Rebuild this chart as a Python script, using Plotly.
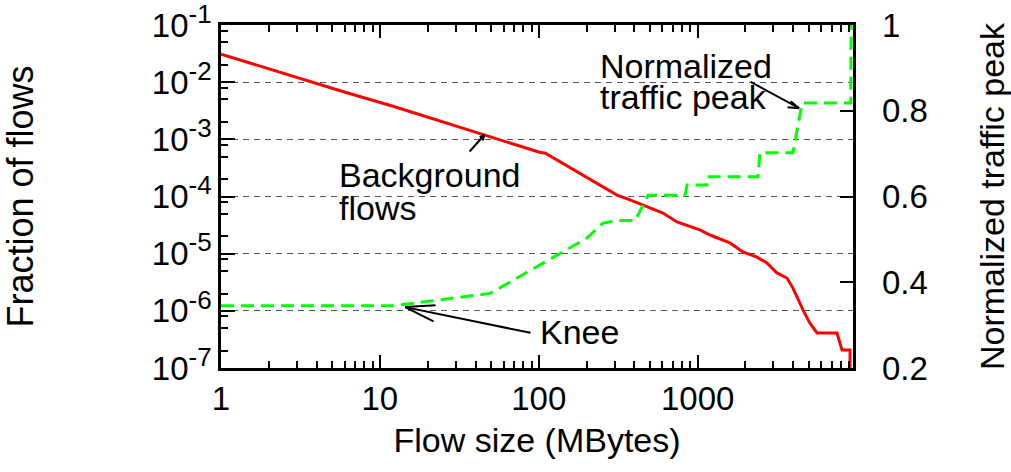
import numpy as np
import plotly.graph_objects as go

# Background flow size distribution (fraction of flows vs. flow size in MB)
bg_size = [1, 5.9, 12.1, 44.7, 100, 110, 216, 311, 375, 605, 741, 1033, 1195,
           1596, 1927, 2361, 2729, 3155, 3645, 3980, 4600, 5090, 5640, 7530,
           8100, 9100, 9100]
bg_frac = [3.1e-2, 6.8e-3, 3.8e-3, 1.19e-3, 6.0e-4, 5.7e-4, 1.95e-4, 1.06e-4,
           8.7e-5, 5.15e-5, 3.58e-5, 2.6e-5, 2.12e-5, 1.54e-5, 1.07e-5,
           8.7e-6, 6.9e-6, 4.6e-6, 3.75e-6, 2.5e-6, 1.04e-6, 6.1e-7, 4.1e-7,
           4.1e-7, 2.07e-7, 2.07e-7, 1e-7]

# Normalized traffic peak vs. flow size
pk_size = [1, 12.1, 49.4, 102, 142, 201, 254, 311, 404, 488, 832, 857, 1145,
           1150, 2399, 2467, 3980, 4540, 9200, 9250]
pk_val = [0.345, 0.345, 0.374, 0.44, 0.471, 0.503, 0.538, 0.544, 0.544, 0.603,
          0.603, 0.627, 0.627, 0.646, 0.646, 0.702, 0.702, 0.818, 0.818, 1.0]

x_ticks = [1, 10, 100, 1000]
x_ticktext = ["1", "10", "100", "1000"]
y_exps = [-7, -6, -5, -4, -3, -2, -1]
y2_ticks = [0.2, 0.4, 0.6, 0.8, 1.0]
y2_ticktext = ["0.2", "0.4", "0.6", "0.8", "1"]

X_MAX = 9500
FONT = "Liberation Sans, Arial, Helvetica, sans-serif"
TICK_FONT = dict(family=FONT, size=33, color="black")
TEXT_SIZE = 34

x_minor = [m * 10 ** d for d in range(4) for m in range(2, 10) if m * 10 ** d < X_MAX]
y_minor = [m * 10.0 ** e for e in range(-7, -1) for m in (2, 5, 8)]

fig = go.Figure()
fig.add_trace(go.Scatter(x=bg_size, y=bg_frac, mode="lines",
                         line=dict(color="#ff0000", width=3),
                         xaxis="x", yaxis="y", showlegend=False))
fig.add_trace(go.Scatter(x=pk_size, y=pk_val, mode="lines",
                         line=dict(color="#00ff00", width=3, dash="13px,7px"),
                         xaxis="x", yaxis="y2", showlegend=False))

axis_common = dict(showline=True, linecolor="black", linewidth=2.5,
                   ticks="inside", tickcolor="black", tickwidth=2,
                   zeroline=False, tickfont=TICK_FONT, automargin=False,
                   ticklabeloverflow="allow")

fig.update_layout(
    width=1011, height=472,
    margin=dict(l=221, r=158, t=25, b=104, autoexpand=False),
    paper_bgcolor="white", plot_bgcolor="white",
    font=dict(family=FONT, size=TEXT_SIZE, color="black"),
    xaxis=dict(type="log", range=[0, np.log10(X_MAX)],
               tickvals=x_ticks, ticktext=x_ticktext, ticklen=13,
               mirror="ticks", showgrid=False,
               minor=dict(tickmode="array", tickvals=x_minor, ticks="inside",
                          ticklen=7, tickwidth=2, tickcolor="black",
                          showgrid=False),
               title=dict(text="Flow size (MBytes)",
                          font=dict(family=FONT, size=34), standoff=12),
               **axis_common),
    yaxis=dict(type="log", range=[-7, -1],
               tickvals=[10.0 ** e for e in y_exps],
               ticktext=["10<sup><span style='font-size:26px'>%d</span></sup>" % e
                         for e in y_exps],
               ticklen=14, mirror=True,
               showgrid=True, gridcolor="#555555", gridwidth=1,
               griddash="6px,5px",
               minor=dict(tickmode="array", tickvals=y_minor, ticks="inside",
                          ticklen=7, tickwidth=2, tickcolor="black",
                          showgrid=False),
               title=dict(text="Fraction of flows",
                          font=dict(family=FONT, size=36), standoff=112),
               **axis_common),
    yaxis2=dict(range=[0.2, 1.0], overlaying="y", side="right", anchor="x",
                tickvals=y2_ticks, ticktext=y2_ticktext, showgrid=False,
                ticks="inside", ticklen=13, tickwidth=2, tickcolor="black",
                showline=False, zeroline=False, ticklabelstandoff=28,
                tickfont=TICK_FONT, automargin=False,
                ticklabeloverflow="allow",
                title=dict(text="Normalized traffic peak",
                           font=dict(family=FONT, size=34), standoff=58)),
)

# Arrows: shaft plus two barbs, all anchored at the arrow tip
def arrow(x, y, yref, tail, barbs):
    for ax, ay in [tail] + barbs:
        fig.add_annotation(x=x, y=y, xref="x", yref=yref, text="",
                           showarrow=True, arrowhead=0, arrowwidth=2,
                           arrowcolor="black", ax=ax, ay=ay,
                           standoff=0, startstandoff=0)

arrow(np.log10(14.4), 0.342, "y2", (127, 26), [(32, -2), (30, 15)])
arrow(np.log10(4350), 0.806, "y2", (-50, -27), [(-10, -8), (-13, -1)])
arrow(np.log10(45.4), np.log10(1.19e-3), "y", (-16, 18), [(-6, 3), (-2, 7)])

labels = [("Background", 0.185, 0.562), ("flows", 0.185, 0.466),
          ("Normalized", 0.5985, 0.8815), ("traffic peak", 0.5985, 0.790),
          ("Knee", 0.5035, 0.105)]
for txt, xp, yp in labels:
    fig.add_annotation(x=xp, y=yp, xref="paper", yref="paper", text=txt,
                       showarrow=False, xanchor="left", yanchor="middle",
                       borderpad=0,
                       font=dict(family=FONT, size=TEXT_SIZE, color="black"))

fig.write_html("out.html")
